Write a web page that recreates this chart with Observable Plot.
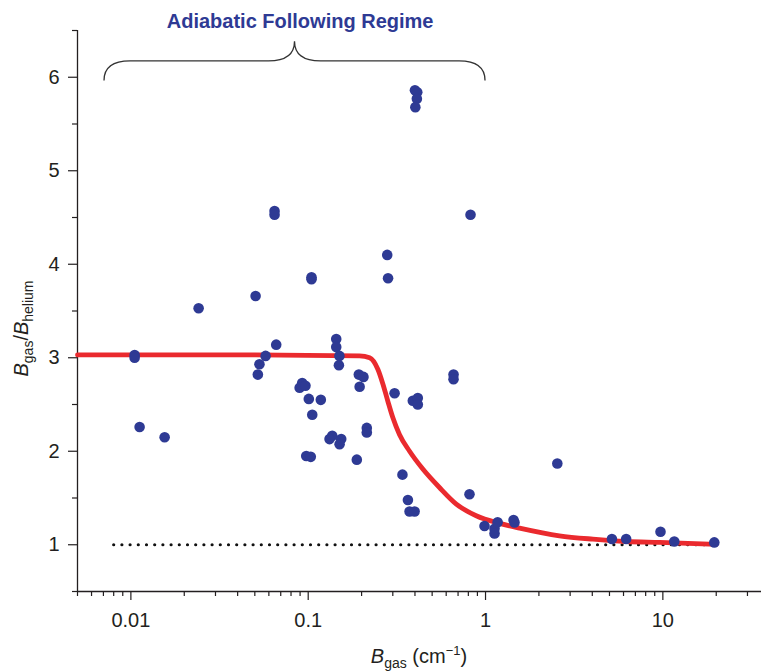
<!DOCTYPE html>
<html>
<head>
<meta charset="utf-8">
<script src="https://cdn.jsdelivr.net/npm/d3@7"></script>
<script src="https://cdn.jsdelivr.net/npm/@observablehq/plot@0.6"></script>
<style>
  html, body { margin: 0; padding: 0; background: #fff; }
  #chart { width: 763px; height: 671px; }
</style>
</head>
<body>
<div id="chart"></div>
<script>
// ---- data ----
const pointX = [
  0.0105, 0.0105, 0.0112, 0.0155, 0.0241, 0.0505, 0.0646, 0.0646, 0.0660, 0.0575,
  0.0531, 0.0520, 0.0925, 0.0895, 0.0965, 0.1008, 0.1178, 0.1054, 0.0975, 0.1034,
  0.1044, 0.1044, 0.1439, 0.1439, 0.150, 0.149, 0.1366, 0.1319, 0.1535, 0.1503,
  0.188, 0.193, 0.205, 0.195, 0.214, 0.214, 0.279, 0.282, 0.307, 0.340,
  0.365, 0.373, 0.398, 0.389, 0.415, 0.415, 0.400, 0.412, 0.410, 0.402,
  0.66, 0.66, 0.823, 0.812, 0.987, 1.124, 1.17, 1.124, 1.439, 1.457,
  2.54, 5.16, 6.21, 9.70, 11.6, 19.5
];
const pointY = [
  3.03, 3.00, 2.26, 2.15, 3.53, 3.66, 4.57, 4.53, 3.14, 3.02,
  2.93, 2.82, 2.73, 2.68, 2.70, 2.56, 2.55, 2.39, 1.95, 1.94,
  3.86, 3.84, 3.20, 3.115, 3.02, 2.92, 2.165, 2.13, 2.13, 2.076,
  1.91, 2.82, 2.795, 2.69, 2.25, 2.20, 4.10, 3.85, 2.62, 1.75,
  1.478, 1.356, 1.356, 2.54, 2.57, 2.50, 5.86, 5.84, 5.77, 5.68,
  2.82, 2.77, 4.53, 1.54, 1.20, 1.17, 1.24, 1.12, 1.264, 1.238,
  1.869, 1.061, 1.061, 1.139, 1.035, 1.025
];
const modelX = [0.005, 0.05, 0.1948, 0.222, 0.247, 0.264, 0.281, 0.300, 0.327, 0.373,
  0.443, 0.550, 0.684, 0.886, 1.20, 1.555, 2.61, 4.03, 6.21, 9.58, 20];
const modelY = [3.03, 3.03, 3.02, 3.00, 2.877, 2.717, 2.538, 2.36, 2.18, 2.00,
  1.81, 1.612, 1.435, 1.31, 1.228, 1.178, 1.096, 1.06, 1.035, 1.025, 1.005];
const baselineX = [0.008, 20];
const baselineY = [1, 1];

const xMajorTicks = [0.01, 0.1, 1, 10];
const xMinorTicks = [0.005, 0.006, 0.007, 0.008, 0.009,
  0.02, 0.03, 0.04, 0.05, 0.06, 0.07, 0.08, 0.09,
  0.2, 0.3, 0.4, 0.5, 0.6, 0.7, 0.8, 0.9,
  2, 3, 4, 5, 6, 7, 8, 9, 20, 30];
const xTickLabels = ["0.01", "0.1", "1", "10"];
const yMajorTicks = [1, 2, 3, 4, 5, 6];
const yMinorTicks = [0.5, 1.5, 2.5, 3.5, 4.5, 5.5, 6.5];

const regimeLabel = "Adiabatic Following Regime";
const regimeStart = 0.0071, regimeEnd = 1.0;
const braceEndY = 5.96, braceFlatY = 6.17, bracePeakY = 6.38;
const regimeLabelX = 0.09, regimeLabelY = 6.6;

const xTitle = {main: "B", sub: "gas", rest: " (cm", sup: "\u22121", close: ")"};
const yTitle = {a: "B", aSub: "gas", slash: "/", b: "B", bSub: "helium"};

// ---- styles ----
const dotColor = "#2e3a94";
const modelColor = "#ea2a2e";
const axisColor = "#231f20";
const fontFamily = "'Liberation Sans', Arial, Helvetica, sans-serif";

const points = pointX.map((x, i) => ({x, y: pointY[i]}));
const model = modelX.map((x, i) => ({x, y: modelY[i]}));
const baseline = baselineX.map((x, i) => ({x, y: baselineY[i]}));

function braceMark(index, scales) {
  const X = scales.x, Y = scales.y;
  const x0 = X(regimeStart), x1 = X(regimeEnd);
  const xc = Math.exp((Math.log(x0 + 1e-9) + Math.log(x1)) / 2) ; // not used directly
  const cx = X(Math.sqrt(regimeStart * regimeEnd));
  const ye = Y(braceEndY), yf = Y(braceFlatY), yp = Y(bracePeakY);
  const r = 26;
  const p = d3.path();
  p.moveTo(x0, ye);
  p.quadraticCurveTo(x0, yf, x0 + r, yf);
  p.lineTo(cx - r, yf);
  p.quadraticCurveTo(cx, yf, cx, yp);
  p.quadraticCurveTo(cx, yf, cx + r, yf);
  p.lineTo(x1 - r, yf);
  p.quadraticCurveTo(x1, yf, x1, ye);
  const g = d3.create("svg:g");
  g.append("path").attr("d", p.toString()).attr("fill", "none")
    .attr("stroke", "#333").attr("stroke-width", 1.3);
  return g.node();
}

function titlesMark(index, scales, values, dimensions) {
  const {width, height, marginLeft, marginRight, marginTop, marginBottom} = dimensions;
  const g = d3.create("svg:g").attr("fill", axisColor).attr("font-family", fontFamily);
  // x title
  const tx = g.append("text")
    .attr("x", (marginLeft + width - marginRight) / 2)
    .attr("y", height - 8)
    .attr("text-anchor", "middle")
    .attr("font-size", 20);
  tx.append("tspan").attr("font-style", "italic").text(xTitle.main);
  tx.append("tspan").attr("font-size", 14).attr("dy", 5).text(xTitle.sub);
  tx.append("tspan").attr("dy", -5).text(xTitle.rest);
  tx.append("tspan").attr("font-size", 13).attr("dy", -8).text(xTitle.sup);
  tx.append("tspan").attr("dy", 8).text(xTitle.close);
  // y title
  const ty = g.append("text")
    .attr("transform", `translate(28, ${(marginTop + height - marginBottom) / 2 + 18}) rotate(-90)`)
    .attr("text-anchor", "middle")
    .attr("font-size", 20);
  ty.append("tspan").attr("font-style", "italic").text(yTitle.a);
  ty.append("tspan").attr("font-size", 14).attr("dy", 5).text(yTitle.aSub);
  ty.append("tspan").attr("dy", -5).text(yTitle.slash);
  ty.append("tspan").attr("font-style", "italic").text(yTitle.b);
  ty.append("tspan").attr("font-size", 14).attr("dy", 5).text(yTitle.bSub);
  return g.node();
}

const chart = Plot.plot({
  width: 763,
  height: 671,
  marginLeft: 77,
  marginRight: 2,
  marginTop: 30,
  marginBottom: 80,
  style: {fontFamily, fontSize: "20px", color: axisColor, background: "#fff", overflow: "visible"},
  x: {type: "log", domain: [0.005, 36], label: null},
  y: {domain: [0.5, 6.5], label: null},
  marks: [
    Plot.ruleY([0.5], {stroke: axisColor, strokeWidth: 1.3}),
    Plot.ruleX([0.005], {stroke: axisColor, strokeWidth: 1.3}),
    Plot.axisX(xMinorTicks, {tickSize: 5, fill: "none", label: null, stroke: axisColor, strokeWidth: 1.2}),
    Plot.axisX(xMajorTicks, {tickSize: 9, tickPadding: 12, label: null, stroke: axisColor, strokeWidth: 1.2,
      tickFormat: (d) => xTickLabels[xMajorTicks.indexOf(d)], fontSize: 20}),
    Plot.axisY(yMinorTicks, {tickSize: 5, fill: "none", label: null, stroke: axisColor, strokeWidth: 1.2}),
    Plot.axisY(yMajorTicks, {tickSize: 9, tickPadding: 9, label: null, stroke: axisColor, strokeWidth: 1.2,
      tickFormat: (d) => String(d), fontSize: 20}),
    Plot.line(baseline, {x: "x", y: "y", stroke: "#111", strokeWidth: 3.2,
      strokeDasharray: "0,8.2", strokeLinecap: "round"}),
    Plot.line(model, {x: "x", y: "y", stroke: modelColor, strokeWidth: 4.8, curve: "monotone-x"}),
    Plot.dot(points, {x: "x", y: "y", r: 5.3, fill: dotColor, stroke: "none"}),
    braceMark,
    Plot.text([regimeLabel], {x: regimeLabelX, y: regimeLabelY, text: (d) => d,
      fill: dotColor, fontWeight: "bold", fontSize: 20, textAnchor: "middle"}),
    titlesMark
  ]
});
document.getElementById("chart").appendChild(chart);
</script>
</body>
</html>
